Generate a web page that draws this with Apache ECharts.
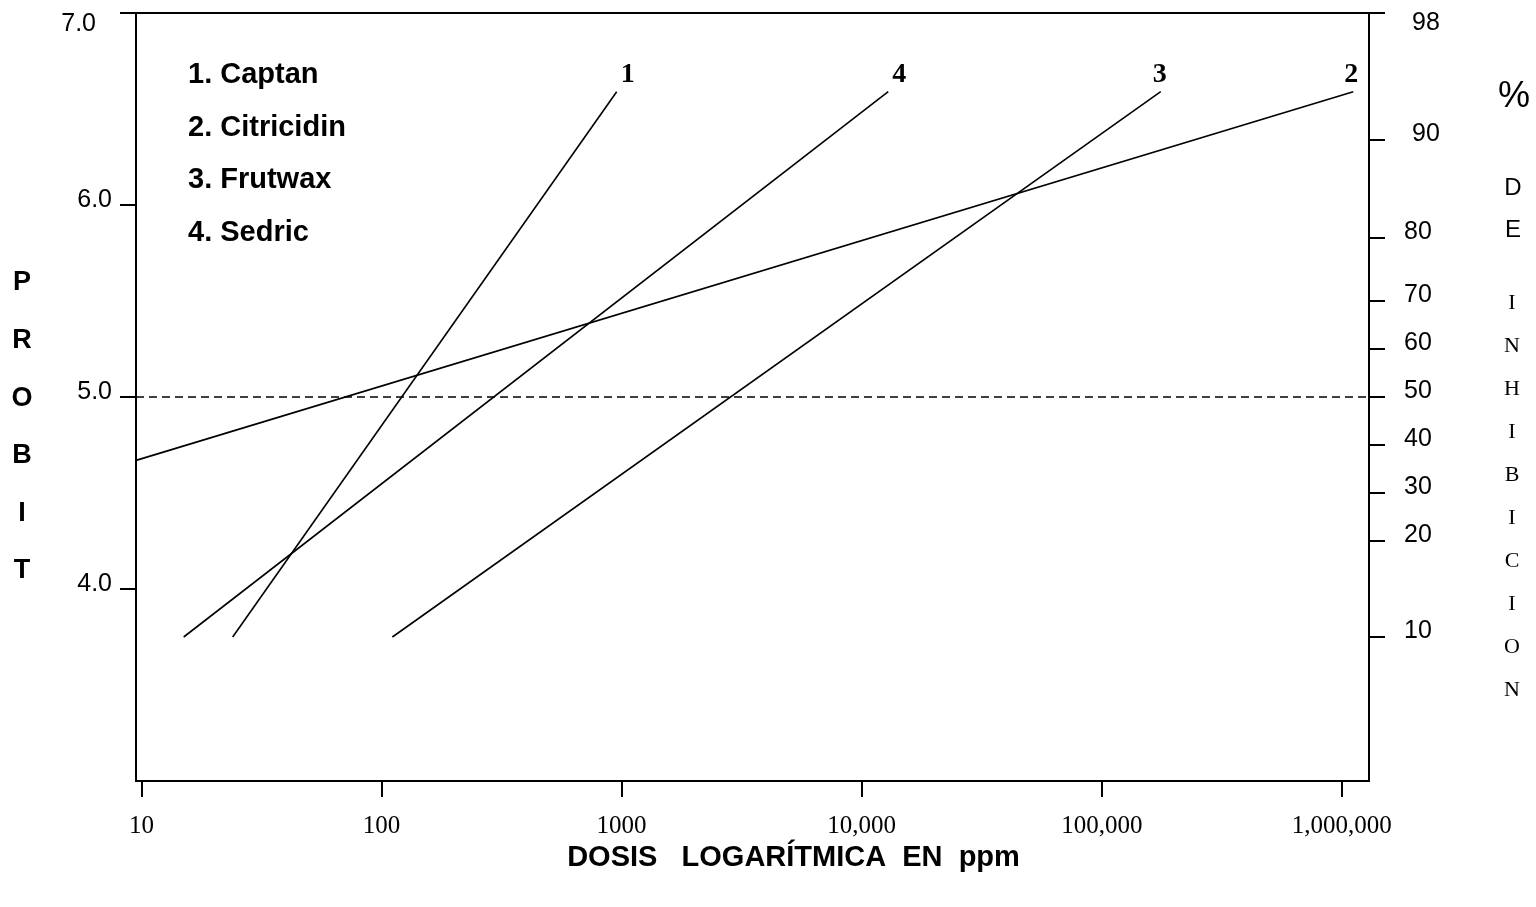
<!DOCTYPE html>
<html>
<head>
<meta charset="utf-8">
<script src="https://cdn.jsdelivr.net/npm/echarts@6/dist/echarts.min.js"></script>
<style>
html,body{margin:0;padding:0;background:#fff;}
#chart{width:1536px;height:907px;}
</style>
</head>
<body>
<div id="chart"></div>
<script>
// ---- data ----
const xTickDoses = [10, 100, 1000, 10000, 100000, 1000000];
const xTickLabels = ['10', '100', '1000', '10,000', '100,000', '1,000,000'];
const probitTicks = [4, 5, 6, 7];
const pctTickLabels = ['98', '90', '80', '70', '60', '50', '40', '30', '20', '10'];
const pctTickProbits = [7.0, 6.34, 5.83, 5.50, 5.25, 5.00, 4.75, 4.50, 4.25, 3.75];
const seriesNames = ['1. Captan', '2. Citricidin', '3. Frutwax', '4. Sedric'];
const lineTags = ['1', '2', '3', '4'];
const captanDose = [24, 954];
const captanProbit = [3.75, 6.59];
const citricidinDose = [9.5, 1115000];
const citricidinProbit = [4.67, 6.59];
const frutwaxDose = [111, 176000];
const frutwaxProbit = [3.75, 6.59];
const sedricDose = [15, 12900];
const sedricProbit = [3.75, 6.59];
const referenceProbit = 5.0;
const xTitle = 'DOSIS   LOGARÍTMICA  EN  ppm';
const yTitle = 'P\nR\nO\nB\nI\nT';

// ---- build ----
const SANS = 'Liberation Sans';
const SERIF = 'Liberation Serif';
const logTicks = xTickDoses.map(d => Math.log10(d));
const doses = [captanDose, citricidinDose, frutwaxDose, sedricDose];
const probits = [captanProbit, citricidinProbit, frutwaxProbit, sedricProbit];
const tagOffsets = [[11, 0], [-2, 0], [-1, 0], [11, 0]];

function near(a, b) { return Math.abs(a - b) < 1e-6; }

const series = seriesNames.map((name, s) => {
  const pts = doses[s].map((d, i) => {
    const item = { value: [Math.log10(d), probits[s][i]] };
    if (i === doses[s].length - 1) {
      item.label = {
        show: true, formatter: lineTags[s], position: 'top', distance: 3,
        offset: tagOffsets[s], color: '#000',
        fontFamily: SERIF, fontWeight: 'bold', fontSize: 28
      };
    }
    return item;
  });
  const ser = {
    name: name, type: 'line', data: pts,
    symbol: 'circle', symbolSize: 0, showSymbol: true,
    lineStyle: { color: '#000', width: 1.6 },
    itemStyle: { color: '#000' },
    silent: true, animation: false
  };
  if (s === 0) {
    ser.markLine = {
      silent: true, symbol: 'none', animation: false,
      label: { show: false },
      lineStyle: { color: '#000', type: [8, 5], width: 1.5 },
      data: [{ yAxis: referenceProbit }]
    };
  }
  return ser;
});

const chart = echarts.init(document.getElementById('chart'));
chart.setOption({
  backgroundColor: '#fff',
  animation: false,
  grid: { left: 136, right: 167, top: 13, bottom: 126, show: true, borderColor: '#000', borderWidth: 2 },
  legend: {
    data: seriesNames, orient: 'vertical', left: 183, top: 60,
    padding: 0, icon: 'none', itemWidth: 0, itemHeight: 30, itemGap: 22.7,
    selectedMode: false,
    textStyle: { fontFamily: SANS, fontWeight: 'bold', fontSize: 29, color: '#000', lineHeight: 30 }
  },
  xAxis: {
    type: 'value', min: 0.9775, max: 6.113,
    name: xTitle, nameLocation: 'middle', nameGap: 62,
    nameTextStyle: { fontFamily: SANS, fontWeight: 'bold', fontSize: 29, color: '#000', padding: [0, 0, 0, 82] },
    axisLine: { show: true, lineStyle: { color: '#000', width: 2 } },
    axisTick: { show: true, customValues: logTicks, length: 16, inside: false, lineStyle: { color: '#000', width: 2 } },
    axisLabel: {
      show: true, customValues: logTicks, margin: 33,
      fontFamily: SERIF, fontSize: 25, color: '#000',
      formatter: function (v) {
        const i = logTicks.findIndex(t => near(t, v));
        return i >= 0 ? xTickLabels[i] : '';
      }
    },
    splitLine: { show: false }
  },
  yAxis: [{
    type: 'value', min: 3, max: 7, position: 'left',
    axisLine: { show: true, lineStyle: { color: '#000', width: 2 } },
    axisTick: { show: true, customValues: probitTicks, length: 16, inside: false, lineStyle: { color: '#000', width: 2 } },
    axisLabel: {
      show: true, customValues: probitTicks, margin: 24,
      fontFamily: SANS, fontSize: 25, color: '#000',
      formatter: function (v) {
        return near(v, 7) ? '{t|' + v.toFixed(1) + '}' : '{n|' + v.toFixed(1) + '}';
      },
      rich: {
        t: { fontFamily: SANS, fontSize: 25, color: '#000', padding: [22, 16, 0, 0] },
        n: { fontFamily: SANS, fontSize: 25, color: '#000', padding: [0, 0, 9, 0] }
      }
    },
    splitLine: { show: false }
  }, {
    type: 'value', min: 3, max: 7, position: 'right',
    axisLine: { show: true, lineStyle: { color: '#000', width: 2 } },
    axisTick: { show: true, customValues: pctTickProbits, length: 16, inside: false, lineStyle: { color: '#000', width: 2 } },
    axisLabel: {
      show: true, customValues: pctTickProbits, margin: 35,
      fontFamily: SANS, fontSize: 25, color: '#000', align: 'left',
      formatter: function (v) {
        const i = pctTickProbits.findIndex(t => near(t, v));
        if (i < 0) return '';
        const lab = pctTickLabels[i];
        if (i === 0) return '{t|' + lab + '}';
        if (i === 1) return '{w|' + lab + '}';
        return '{n|' + lab + '}';
      },
      rich: {
        t: { fontFamily: SANS, fontSize: 25, color: '#000', padding: [20, 0, 0, 8] },
        w: { fontFamily: SANS, fontSize: 25, color: '#000', padding: [0, 0, 11, 8] },
        n: { fontFamily: SANS, fontSize: 25, color: '#000', padding: [0, 0, 11, 0] }
      }
    },
    splitLine: { show: false }
  }],
  graphic: [
    { type: 'text', x: 22, y: 427, silent: true,
      style: { text: yTitle, font: 'bold 27px "Liberation Sans"', lineHeight: 57.6, fill: '#000', align: 'center', verticalAlign: 'middle' } },
    { type: 'text', x: 1514, y: 97, silent: true,
      style: { text: '%', font: '36px "Liberation Sans"', fill: '#000', align: 'center', verticalAlign: 'middle' } },
    { type: 'text', x: 1513, y: 209, silent: true,
      style: { text: 'D\nE', font: '24px "Liberation Sans"', lineHeight: 42, fill: '#000', align: 'center', verticalAlign: 'middle' } },
    { type: 'text', x: 1512, y: 496.5, silent: true,
      style: { text: 'I\nN\nH\nI\nB\nI\nC\nI\nO\nN', font: '22px "Liberation Serif"', lineHeight: 43, fill: '#000', align: 'center', verticalAlign: 'middle' } }
  ],
  series: series
});
</script>
</body>
</html>
